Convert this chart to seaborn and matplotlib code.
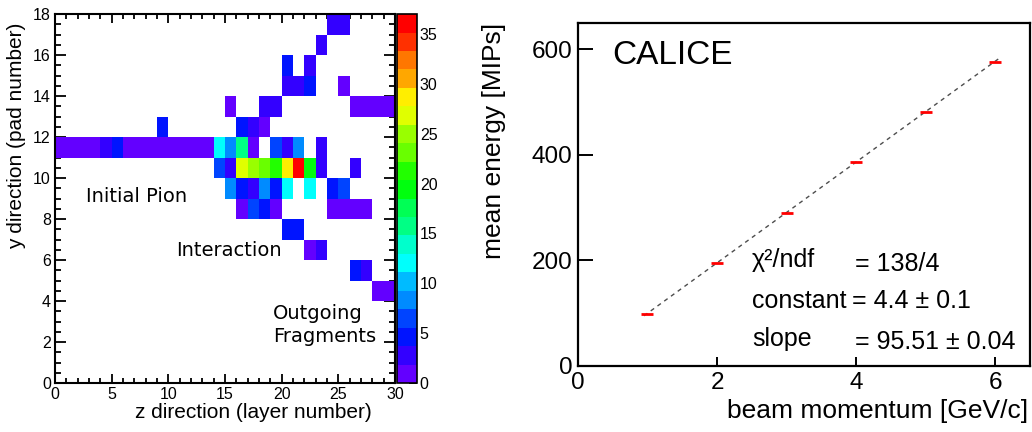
import colorsys
import numpy as np
import pandas as pd
import seaborn as sns
import matplotlib.pyplot as plt
from matplotlib.colors import ListedColormap
from matplotlib.ticker import MultipleLocator

# hits of the event display: layer (z), pad (y), energy in MIPs
hit_layer = [0, 1, 2, 3, 4, 5, 6, 7, 8, 9, 10, 11, 12, 13, 14, 15, 16, 17, 19, 20, 21, 23,
             9, 16, 17, 18,
             15, 18, 19, 26, 27, 28, 29,
             20, 21, 22, 25,
             20, 22,
             23,
             24, 25,
             14, 15, 16, 17, 18, 19, 20, 21, 22, 23, 26,
             15, 16, 17, 18, 19, 20, 22, 24, 25,
             16, 17, 18, 19, 24, 25, 26, 27,
             20, 21,
             22, 23,
             26, 27,
             28, 29]
hit_pad = [11] * 22 + [12] * 4 + [13] * 7 + [14] * 4 + [15] * 2 + [16] * 1 + [17] * 2 \
    + [10] * 11 + [9] * 9 + [8] * 8 + [7] * 2 + [6] * 2 + [5] * 2 + [4] * 2
hit_mips = [1.2, 1.1, 1.2, 1.0, 2.6, 4.2, 1.1, 1.0, 1.2, 1.1, 1.0, 1.1, 1.2, 1.1, 12.5, 8.5, 15.0, 1.5, 6.0, 3.5, 8.6, 2.4,
            4.2, 5.0, 3.0, 1.6,
            1.4, 2.8, 2.6, 1.2, 1.3, 1.2, 1.1,
            3.0, 3.2, 4.5, 1.5,
            4.0, 2.4,
            2.5,
            3.0, 2.6,
            5.8, 2.6, 27.0, 25.0, 23.0, 21.0, 29.0, 36.7, 19.5, 2.0, 2.8,
            8.5, 4.5, 2.8, 8.0, 4.0, 12.0, 12.0, 4.5, 6.5,
            1.8, 6.5, 3.8, 1.8, 1.3, 1.2, 1.3, 1.2,
            4.5, 4.5,
            1.6, 3.0,
            3.8, 2.5,
            1.4, 1.4]

# linearity plot
beam_p = [1, 2, 3, 4, 5, 6]
mean_e = [99, 195, 290, 387, 482, 577]
fit_const = 4.4
fit_slope = 95.51

sns.set_theme(style='ticks')
plt.rcParams['font.family'] = ['Liberation Sans', 'DejaVu Sans']
plt.rcParams.update({'text.color': 'black', 'axes.labelcolor': 'black',
                     'xtick.color': 'black', 'ytick.color': 'black'})

fig = plt.figure(figsize=(10.32, 4.32), dpi=100)
ax = fig.add_axes([0.0533, 0.1134, 0.3295, 0.854])
cax = fig.add_axes([0.3847, 0.1134, 0.0194, 0.854])
ax2 = fig.add_axes([0.560, 0.1528, 0.438, 0.794])

# ROOT "pretty" palette, 20 contour bands
root_cols = [colorsys.hls_to_rgb((280 - (int((k + 0.99) * 2.5) + 1) * 5.6) / 360, 0.5, 1.0) for k in range(20)]
cmap = ListedColormap(root_cols)

hits = pd.DataFrame({'layer': hit_layer, 'pad': hit_pad, 'mips': hit_mips})
grid = hits.pivot_table(index='pad', columns='layer', values='mips').reindex(index=range(18), columns=range(30))

sns.heatmap(grid, cmap=cmap, vmin=0, vmax=37, ax=ax, cbar_ax=cax,
            xticklabels=False, yticklabels=False, linewidths=0)
ax.set_xlim(0, 30)
ax.set_ylim(0, 18)
ax.set_xticks(range(0, 31, 5))
ax.set_xticklabels([str(v) for v in range(0, 31, 5)])
ax.set_yticks(range(0, 19, 2))
ax.set_yticklabels([str(v) for v in range(0, 19, 2)], rotation=0)
ax.xaxis.set_minor_locator(MultipleLocator(1))
ax.yaxis.set_minor_locator(MultipleLocator(0.5))
ax.tick_params(which='both', direction='in', top=True, right=True, width=1.3, labelsize=11.5, colors='black')
ax.tick_params(axis='x', which='major', length=6.5, pad=3)
ax.tick_params(axis='x', which='minor', length=3.3)
ax.tick_params(axis='y', which='major', length=8, pad=3)
ax.tick_params(axis='y', which='minor', length=4.5)
for s in ax.spines.values():
    s.set_visible(True)
    s.set_linewidth(1.5)
    s.set_color('black')
ax.set_xlabel('z direction (layer number)', fontsize=15, loc='right')
ax.set_ylabel('y direction (pad number)', fontsize=15, loc='top')
ax.xaxis.set_label_coords(0.932, -0.055)
ax.yaxis.set_label_coords(-0.085, 0.978)

cb = ax.collections[0].colorbar
cb.set_ticks(range(0, 36, 5))
cb.outline.set_linewidth(1.2)
cb.outline.set_edgecolor('black')
cax.tick_params(direction='in', length=6, width=1.3, labelsize=11.5, pad=2, colors='black')

ann = dict(fontsize=14, family='DejaVu Sans', va='center', ha='left', color='black')
ax.text(2.7, 9.1, 'Initial Pion', **ann)
ax.text(10.7, 6.45, 'Interaction', **ann)
ax.text(19.2, 3.4, 'Outgoing', **ann)
ax.text(19.2, 2.25, 'Fragments', **ann)

# right: mean energy vs beam momentum
xs = np.array([min(beam_p) - 0.05, max(beam_p) + 0.05])
sns.lineplot(x=xs, y=fit_const + fit_slope * xs, ax=ax2, color='0.3', linewidth=1, linestyle=(0, (3, 3)))
sns.scatterplot(x=beam_p, y=mean_e, ax=ax2, marker='_', s=75, color='red', linewidth=2, zorder=3)
ax2.set_xlim(0, 6.5)
ax2.set_ylim(0, 650)
ax2.set_xticks([0, 2, 4, 6])
ax2.set_yticks([0, 200, 400, 600])
ax2.tick_params(direction='in', labelsize=17.5, width=1.4, colors='black')
ax2.tick_params(axis='x', length=6.5, pad=4)
ax2.tick_params(axis='y', length=10.8, pad=4)
for s in ax2.spines.values():
    s.set_linewidth(1.6)
    s.set_color('black')
ax2.set_xlabel('beam momentum [GeV/c]', fontsize=19, loc='right')
ax2.set_ylabel('mean energy [MIPs]', fontsize=19, loc='top')
ax2.xaxis.set_label_coords(0.996, -0.095)
ax2.yaxis.set_label_coords(-0.16, 1.0)

ax2.text(0.075, 0.904, 'CALICE', transform=ax2.transAxes, fontsize=24, va='center')
fit = dict(transform=ax2.transAxes, fontsize=18, va='center')
ax2.text(0.385, 0.309, 'χ²/ndf', **fit)
ax2.text(0.612, 0.298, '= 138/4', **fit)
ax2.text(0.385, 0.190, 'constant', **fit)
ax2.text(0.606, 0.190, '= 4.4 ± 0.1', **fit)
ax2.text(0.385, 0.079, 'slope', **fit)
ax2.text(0.612, 0.070, '= 95.51 ± 0.04', **fit)

fig.savefig('out.png', dpi=100)
